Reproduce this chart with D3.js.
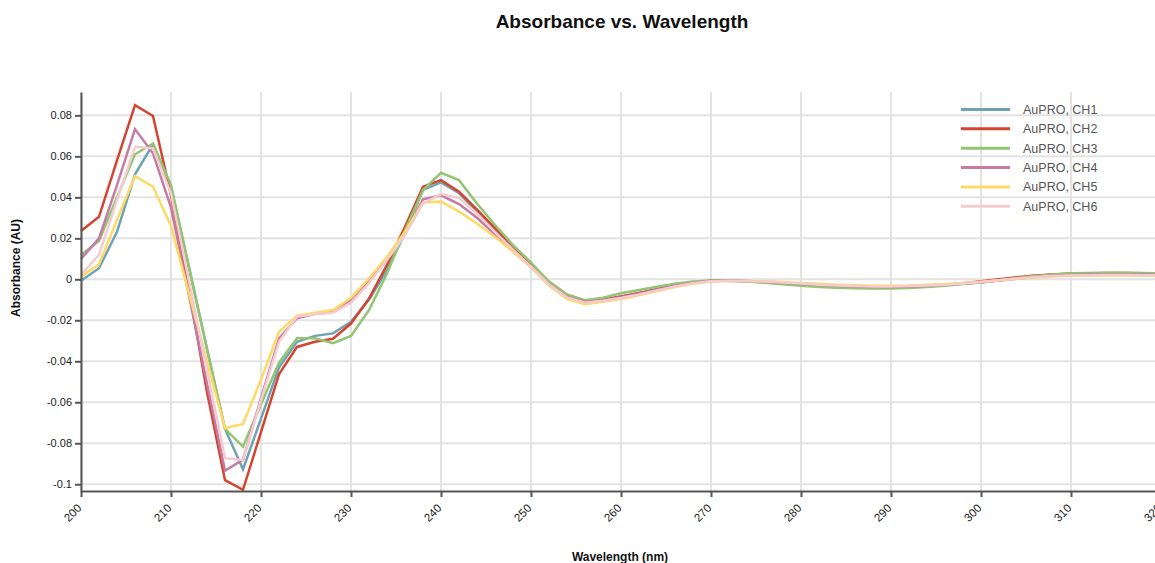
<!DOCTYPE html>
<html>
<head>
<meta charset="utf-8">
<script src="https://cdn.jsdelivr.net/npm/d3@7"></script>
<style>
  html, body { margin: 0; padding: 0; background: #fff; overflow: hidden; }
  svg { display: block; font-family: Arial, "Liberation Sans", sans-serif; }
</style>
</head>
<body>
<svg id="chart" width="1155" height="563"></svg>
<script>
// ---------- data ----------
const wavelengths = d3.range(200, 321, 2);
const seriesNames = ["AuPRO, CH1", "AuPRO, CH2", "AuPRO, CH3", "AuPRO, CH4", "AuPRO, CH5", "AuPRO, CH6"];
const seriesColors = ["#6fa3b3", "#d2452f", "#92c572", "#c67ba4", "#fdd966", "#f5cbcf"];

const ch1 = [-0.0007, 0.0054, 0.0232, 0.0512, 0.0659, 0.045, 0.0057, -0.034, -0.073, -0.0927, -0.068, -0.043, -0.0305, -0.0276, -0.0264, -0.0207, -0.010, 0.0045, 0.0225, 0.0436, 0.0473, 0.042, 0.033, 0.024, 0.015, 0.0065, -0.002, -0.008,
  -0.0108, -0.0100, -0.0085, -0.0068, -0.0048, -0.0030, -0.0015, -0.0007, -0.0006, -0.0009, -0.0014, -0.0020, -0.0026, -0.0031, -0.0035, -0.0038, -0.0040, -0.0040, -0.0038, -0.0034, -0.0029, -0.0022, -0.0015, -0.0005, 0.0006, 0.0015, 0.0022, 0.0027, 0.0029, 0.0030, 0.0030, 0.0029, 0.0027];
const ch2 = [0.0236, 0.0305, 0.058, 0.085, 0.0797, 0.041, -0.005, -0.055, -0.098, -0.1027, -0.0746, -0.0463, -0.033, -0.0305, -0.029, -0.0216, -0.0094, 0.007, 0.0256, 0.0452, 0.0484, 0.0427, 0.034, 0.025, 0.016, 0.0075, -0.0012, -0.0075,
  -0.0106, -0.0098, -0.0084, -0.0067, -0.0048, -0.0030, -0.0015, -0.0007, -0.0007, -0.0010, -0.0015, -0.0021, -0.0027, -0.0032, -0.0036, -0.0039, -0.0040, -0.0040, -0.0037, -0.0033, -0.0027, -0.0019, -0.0010, 0.0000, 0.0010, 0.0018, 0.0024, 0.0028, 0.0030, 0.0031, 0.0031, 0.0030, 0.0028];
const ch3 = [0.0119, 0.0187, 0.040, 0.061, 0.0663, 0.046, 0.006, -0.034, -0.073, -0.0816, -0.061, -0.0407, -0.0288, -0.0288, -0.0312, -0.0276, -0.015, 0.0028, 0.024, 0.0436, 0.052, 0.0484, 0.037, 0.0265, 0.0167, 0.0082, -0.0012, -0.0075,
  -0.0102, -0.0090, -0.0068, -0.0052, -0.0036, -0.0022, -0.0011, -0.0006, -0.0007, -0.0011, -0.0017, -0.0024, -0.0031, -0.0037, -0.0041, -0.0044, -0.0045, -0.0045, -0.0042, -0.0037, -0.0031, -0.0023, -0.0015, -0.0005, 0.0006, 0.0016, 0.0024, 0.0029, 0.0031, 0.0032, 0.0032, 0.0031, 0.0029];
const ch4 = [0.0099, 0.020, 0.046, 0.0733, 0.0615, 0.035, -0.008, -0.051, -0.0934, -0.088, -0.058, -0.0289, -0.019, -0.0168, -0.016, -0.0102, -0.001, 0.010, 0.0222, 0.039, 0.041, 0.0367, 0.030, 0.022, 0.014, 0.006, -0.0025, -0.0085,
  -0.0110, -0.0102, -0.0087, -0.0070, -0.0050, -0.0032, -0.0017, -0.0008, -0.0006, -0.0008, -0.0012, -0.0017, -0.0023, -0.0028, -0.0032, -0.0035, -0.0037, -0.0037, -0.0035, -0.0032, -0.0027, -0.0021, -0.0014, -0.0006, 0.0003, 0.0011, 0.0017, 0.0021, 0.0023, 0.0024, 0.0024, 0.0023, 0.0022];
const ch5 = [0.0013, 0.0073, 0.029, 0.0504, 0.0452, 0.026, -0.007, -0.040, -0.0727, -0.0706, -0.049, -0.0256, -0.0178, -0.0163, -0.015, -0.009, 0.0005, 0.011, 0.0232, 0.0375, 0.0379, 0.033, 0.0272, 0.0207, 0.0134, 0.006, -0.003, -0.0095,
  -0.0122, -0.0110, -0.0096, -0.0078, -0.0057, -0.0038, -0.0022, -0.0011, -0.0008, -0.0008, -0.0010, -0.0013, -0.0018, -0.0022, -0.0026, -0.0029, -0.0031, -0.0031, -0.0030, -0.0027, -0.0023, -0.0018, -0.0012, -0.0005, 0.0003, 0.0009, 0.0014, 0.0017, 0.0018, 0.0019, 0.0019, 0.0018, 0.0017];
const ch6 = [0.0021, 0.012, 0.0386, 0.0647, 0.0639, 0.042, -0.001, -0.044, -0.0873, -0.0882, -0.059, -0.0305, -0.0182, -0.017, -0.0163, -0.0114, -0.0018, 0.0094, 0.0216, 0.037, 0.0416, 0.0396, 0.032, 0.023, 0.0145, 0.0062, -0.0025, -0.0088,
  -0.0114, -0.0105, -0.0091, -0.0074, -0.0054, -0.0035, -0.0019, -0.0009, -0.0007, -0.0008, -0.0011, -0.0016, -0.0021, -0.0026, -0.0030, -0.0033, -0.0035, -0.0035, -0.0033, -0.0030, -0.0026, -0.0020, -0.0013, -0.0005, 0.0004, 0.0011, 0.0016, 0.0019, 0.0020, 0.0021, 0.0021, 0.0020, 0.0019];

const xTickValues = [200, 210, 220, 230, 240, 250, 260, 270, 280, 290, 300, 310, 320];
const yTickValues = [0.08, 0.06, 0.04, 0.02, 0, -0.02, -0.04, -0.06, -0.08, -0.1];
const yTickLabels = ["0.08", "0.06", "0.04", "0.02", "0", "-0.02", "-0.04", "-0.06", "-0.08", "-0.1"];

const allSeries = [ch1, ch2, ch3, ch4, ch5, ch6];

// ---------- layout ----------
const svg = d3.select("#chart");
const mLeft = 81, mRight = 1161, mTop = 92, mBottom = 491;
const x = d3.scaleLinear().domain([200, 320]).range([mLeft, mRight]);
const y = d3.scaleLinear().domain([-0.1033, 0.0914]).range([mBottom, mTop]);

// grid
const grid = svg.append("g");
grid.selectAll("line.v").data(xTickValues).join("line").attr("class", "v")
  .attr("x1", d => x(d)).attr("x2", d => x(d))
  .attr("y1", mTop).attr("y2", mBottom)
  .attr("stroke", "#e3e3e3").attr("stroke-width", 2);
grid.selectAll("line.h").data(yTickValues).join("line").attr("class", "h")
  .attr("x1", mLeft).attr("x2", mRight)
  .attr("y1", d => y(d)).attr("y2", d => y(d))
  .attr("stroke", "#e3e3e3").attr("stroke-width", 2);

// lines
const line = d3.line().x((d, i) => x(wavelengths[i])).y(d => y(d));
svg.append("g").selectAll("path").data(allSeries).join("path")
  .attr("d", d => line(d))
  .attr("fill", "none")
  .attr("stroke", (d, i) => seriesColors[i])
  .attr("stroke-width", 2.5)
  .attr("stroke-linejoin", "miter");

// axes
const yAxis = d3.axisLeft(y).tickValues(yTickValues)
  .tickFormat((d, i) => yTickLabels[i]).tickSize(6).tickSizeOuter(0);
const gy = svg.append("g").attr("transform", `translate(${mLeft},0)`).call(yAxis);
gy.select(".domain").attr("stroke", "#555").attr("stroke-width", 2);
gy.selectAll(".tick line").attr("stroke", "#555").attr("stroke-width", 2);
gy.selectAll(".tick text").attr("font-size", 11).attr("fill", "#222")
  .attr("font-family", "Arial, 'Liberation Sans', sans-serif").attr("x", -9);

const xAxis = d3.axisBottom(x).tickValues(xTickValues).tickFormat(d3.format("d")).tickSize(6).tickSizeOuter(0);
const gx = svg.append("g").attr("transform", `translate(0,${mBottom})`).call(xAxis);
gx.select(".domain").attr("stroke", "#555").attr("stroke-width", 2);
gx.selectAll(".tick line").attr("stroke", "#555").attr("stroke-width", 2);
gx.selectAll(".tick text")
  .attr("font-size", 11.5).attr("fill", "#222")
  .attr("font-family", "Arial, 'Liberation Sans', sans-serif")
  .attr("text-anchor", "end")
  .attr("x", 0).attr("y", 0).attr("dy", "0.35em")
  .attr("transform", "translate(-2,15) rotate(-45)");

// title and axis labels
svg.append("text").attr("x", 622).attr("y", 28).attr("text-anchor", "middle")
  .attr("font-size", 19).attr("font-weight", "bold").attr("fill", "#111")
  .text("Absorbance vs. Wavelength");
svg.append("text").attr("x", 620).attr("y", 561).attr("text-anchor", "middle")
  .attr("font-size", 12).attr("font-weight", "bold").attr("fill", "#111")
  .text("Wavelength (nm)");
svg.append("text").attr("transform", "translate(20,268) rotate(-90)").attr("text-anchor", "middle")
  .attr("font-size", 12).attr("font-weight", "bold").attr("fill", "#111")
  .text("Absorbance (AU)");

// legend
const legend = svg.append("g").selectAll("g").data(seriesNames).join("g")
  .attr("transform", (d, i) => `translate(961,${109.5 + i * 19.35})`);
legend.append("line").attr("x1", 0).attr("x2", 49).attr("y1", 0).attr("y2", 0)
  .attr("stroke", (d, i) => seriesColors[i]).attr("stroke-width", 3);
legend.append("text").attr("x", 62).attr("y", 0).attr("dy", "0.35em")
  .attr("font-size", 12.5).attr("fill", "#555").text(d => d);
</script>
</body>
</html>
